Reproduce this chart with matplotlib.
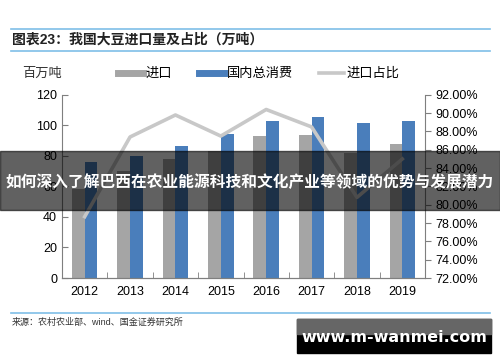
import matplotlib.pyplot as plt
import matplotlib.patches as mpatches
from matplotlib.lines import Line2D
from matplotlib.ticker import FuncFormatter
import numpy as np

plt.rcParams['font.family'] = ['Liberation Sans', 'Noto Sans CJK SC']

# data (million tons / share)
years = ['2012', '2013', '2014', '2015', '2016', '2017', '2018', '2019']
imports = [58, 70, 78, 83, 93, 94, 82, 88]
consumption = [76, 80, 86.5, 94.5, 103, 105.5, 101.5, 103]
import_share = [78.7, 87.4, 89.8, 87.5, 90.4, 88.5, 80.8, 85.0]

c_gray = '#a5a5a5'
c_blue = '#4a7ebb'
c_line = '#c8c8c8'
c_axis = '#7f7f7f'

fig = plt.figure(figsize=(5, 3.62), dpi=100)
ax = fig.add_axes([0.124, 0.232, 0.726, 0.506])
ax2 = ax.twinx()

x = np.arange(len(years))
w = 0.28
ax.bar(x - w / 2, imports, width=w, color=c_gray, zorder=2)
ax.bar(x + w / 2, consumption, width=w, color=c_blue, zorder=2)
ax2.plot(x, import_share, color=c_line, lw=2.6, zorder=3)

ax.set_xlim(-0.5, len(years) - 0.5)
ax.set_ylim(0, 120)
ax.set_yticks(range(0, 121, 20))
ax.set_xticks(x)
ax.set_xticklabels(years)
ax.set_xticks(np.arange(0.5, len(years) - 0.5, 1), minor=True)
ax.tick_params(axis='x', which='major', length=0, labelsize=9, pad=6)
ax.tick_params(axis='x', which='minor', direction='in', length=4, color=c_axis)
ax.tick_params(axis='y', direction='in', length=4, color=c_axis, labelsize=9)

ax2.set_ylim(72, 92)
ax2.set_yticks(np.arange(72, 92.1, 2))
ax2.yaxis.set_major_formatter(FuncFormatter(lambda v, p: '%.2f%%' % v))
ax2.tick_params(axis='y', direction='out', length=4, color=c_axis, labelsize=9)

for a in (ax, ax2):
    a.spines['top'].set_visible(False)
    for s in ('left', 'right', 'bottom'):
        a.spines[s].set_color(c_axis)
ax2.spines['left'].set_visible(False)
ax.spines['right'].set_visible(False)

# unit label and legend
fig.text(42 / 500, 1 - 74 / 362, '百万吨', ha='center', va='center', fontsize=9.5,
         color='#333333')
handles = [Line2D([], [], color=c_gray, lw=5), Line2D([], [], color=c_blue, lw=5),
           Line2D([], [], color=c_line, lw=2.6)]
fig.legend(handles, ['进口', '国内总消费', '进口占比'], loc='center',
           bbox_to_anchor=(259 / 500, 1 - 74 / 362), ncol=3, frameon=False,
           fontsize=9.5, handlelength=1.9, handletextpad=0.2, columnspacing=2.0)

# header / footer
for yy in (29, 51, 313):
    fig.add_artist(Line2D([11 / 500, 490 / 500], [1 - yy / 362] * 2,
                          color='#7fbfe8', lw=1.2))
fig.text(12 / 500, 1 - 40 / 362, '图表23：我国大豆进口量及占比（万吨）', fontsize=10,
         fontweight='bold', va='center', color='#222222')
fig.text(12 / 500, 1 - 322 / 362, '来源：农村农业部、wind、国金证券研究所', fontsize=6.5,
         va='center', color='#333333')

# banner overlay
fig.add_artist(mpatches.Rectangle((0, 1 - 210 / 362), 1, 59 / 362,
                                  transform=fig.transFigure, color='black',
                                  alpha=0.62, zorder=10))
fig.text(0.5, 1 - 182 / 362, '如何深入了解巴西在农业能源科技和文化产业等领域的优势与发展潜力',
         ha='center', va='center', fontsize=11.3, fontweight='bold', color='white',
         zorder=11)

# watermark box
fig.add_artist(mpatches.Rectangle((297 / 500, 1 - 353 / 362), 194 / 500, 34 / 362,
                                  transform=fig.transFigure, color='black', zorder=10))
fig.add_artist(mpatches.Rectangle((297 / 500, 1 - 334 / 362), 194 / 500, 15 / 362,
                                  transform=fig.transFigure, color='#666666', zorder=10))
fig.text(394 / 500, 1 - 338 / 362, 'www.m-wanmei.com', ha='center', va='center',
         fontsize=11.5, fontweight='bold', color='white', family='DejaVu Sans', zorder=11)

fig.savefig('out.png', dpi=100)
